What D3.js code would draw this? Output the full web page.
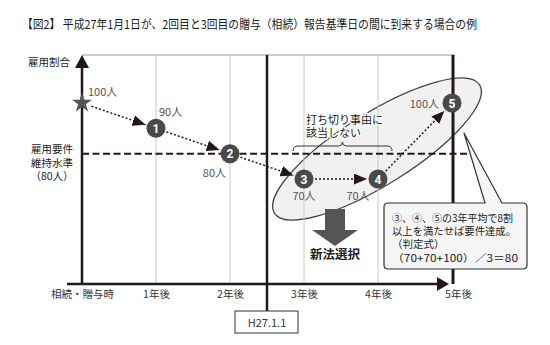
<!DOCTYPE html>
<html>
<head>
<meta charset="utf-8">
<script src="https://cdn.jsdelivr.net/npm/d3@7"></script>
<style>
  html, body { margin: 0; padding: 0; background: #fff; }
  svg { display: block; font-family: "Noto Sans CJK JP", "Noto Sans", sans-serif; }
</style>
</head>
<body>
<svg id="chart" width="550" height="345"></svg>
<script>
// --- data ---
const years = [0, 1, 2, 3, 4, 5];
const tickLabels = ["相続・贈与時", "1年後", "2年後", "3年後", "4年後", "5年後"];
const employees = [100, 90, 80, 70, 70, 100];
const markerNames = ["★", "1", "2", "3", "4", "5"];
const valueLabels = ["100人", "90人", "80人", "70人", "70人", "100人"];
const thresholdValue = 80;
const cutoverYear = 2.5;
const cutoverLabel = "H27.1.1";
const averagedIdx = [3, 4, 5];

// --- layout ---
const labelOffsets = [
  { dx: 6, dy: -11, anchor: "start" },
  { dx: 3, dy: -16, anchor: "start" },
  { dx: -4, dy: 19, anchor: "end" },
  { dx: 0, dy: 17, anchor: "middle" },
  { dx: -20, dy: 17, anchor: "middle" },
  { dx: -13, dy: 1, anchor: "end" }
];

const svg = d3.select("#chart");
const x = d3.scaleLinear().domain([0, 5]).range([82, 452]);
const y = d3.scaleLinear().domain([70, 100]).range([179, 103]);
const topY = 55, axisY = 284;
const dark = "#231815";

// title
svg.append("text")
  .attr("x", 22).attr("y", 29)
  .attr("font-size", 12).attr("fill", "#1a1a1a")
  .attr("textLength", 455).attr("lengthAdjust", "spacingAndGlyphs")
  .text("【図2】 平成27年1月1日が、2回目と3回目の贈与（相続）報告基準日の間に到来する場合の例");

// shaded group of the averaged years
const ecx = 377, ecy = 149;
svg.append("ellipse")
  .attr("cx", ecx).attr("cy", ecy).attr("rx", 121).attr("ry", 36)
  .attr("transform", `rotate(-32,${ecx},${ecy})`)
  .attr("fill", "#f1f1f1").attr("stroke", "#444").attr("stroke-width", 1.2);

// top frame line
svg.append("line")
  .attr("x1", x(0)).attr("x2", x(5) + 3).attr("y1", topY).attr("y2", topY)
  .attr("stroke", "#999").attr("stroke-width", 1);

// yearly gridlines
svg.selectAll("line.grid").data(years.slice(1, 5)).join("line")
  .attr("class", "grid")
  .attr("x1", d => x(d)).attr("x2", d => x(d))
  .attr("y1", topY).attr("y2", axisY)
  .attr("stroke", "#c8c8c8").attr("stroke-width", 1);

// threshold line
svg.append("line")
  .attr("x1", x(0)).attr("x2", 467)
  .attr("y1", y(thresholdValue)).attr("y2", y(thresholdValue))
  .attr("stroke", dark).attr("stroke-width", 2).attr("stroke-dasharray", "7,3.5");

// cutover date line and box
svg.append("line")
  .attr("x1", x(cutoverYear)).attr("x2", x(cutoverYear))
  .attr("y1", topY).attr("y2", 311)
  .attr("stroke", dark).attr("stroke-width", 2.5);
svg.append("rect")
  .attr("x", x(cutoverYear) - 32).attr("y", 311).attr("width", 63).attr("height", 22)
  .attr("fill", "#fff").attr("stroke", "#333").attr("stroke-width", 1);
svg.append("text")
  .attr("x", x(cutoverYear)).attr("y", 326.5).attr("text-anchor", "middle")
  .attr("font-size", 11).attr("fill", "#333").text(cutoverLabel);

// 5-year line
svg.append("line")
  .attr("x1", x(5) + 1).attr("x2", x(5) + 1)
  .attr("y1", topY).attr("y2", axisY)
  .attr("stroke", dark).attr("stroke-width", 3);

// y axis with arrow
svg.append("line")
  .attr("x1", x(0)).attr("x2", x(0)).attr("y1", topY + 10).attr("y2", axisY)
  .attr("stroke", dark).attr("stroke-width", 2.5);
svg.append("path")
  .attr("d", `M${x(0)},${topY} L${x(0) + 7},${topY + 13} L${x(0) - 7},${topY + 13} Z`)
  .attr("fill", dark);
svg.append("text")
  .attr("x", 70).attr("y", 66).attr("text-anchor", "end")
  .attr("font-size", 10.5).attr("fill", "#222").text("雇用割合");

// x axis with arrow
svg.append("line")
  .attr("x1", 67).attr("x2", 440).attr("y1", axisY).attr("y2", axisY)
  .attr("stroke", dark).attr("stroke-width", 2.5);
svg.append("path")
  .attr("d", `M449,${axisY} L437,${axisY - 7} L437,${axisY + 7} Z`)
  .attr("fill", dark);

// x tick labels via axis
const xAxis = d3.axisBottom(x).tickValues(years).tickSize(0).tickPadding(0)
  .tickFormat((d, i) => tickLabels[i]);
const gx = svg.append("g").attr("transform", `translate(0,${axisY + 5})`).call(xAxis);
gx.select(".domain").remove();
gx.selectAll("text")
  .attr("font-size", 10.5).attr("fill", "#333")
  .attr("font-family", "Noto Sans CJK JP, sans-serif")
  .attr("dy", "0.9em");
gx.selectAll(".tick").filter(d => d === 5).select("text").attr("dx", 6);

// threshold label
["雇用要件", "維持水準", "（80人）"].forEach((t, i) => {
  svg.append("text").attr("text-anchor", "middle")
    .attr("font-size", 10.5).attr("fill", "#222")
    .attr("x", 52).attr("y", 153 + i * 13.5).text(t);
});

// brace over years 3-4
const bx1 = 293, bx2 = 392, by = 146, bm = (bx1 + bx2) / 2;
svg.append("path")
  .attr("d", `M${bx1},${by + 5} Q${bx1},${by} ${bx1 + 5},${by} L${bm - 4},${by} Q${bm},${by} ${bm},${by - 4} Q${bm},${by} ${bm + 4},${by} L${bx2 - 5},${by} Q${bx2},${by} ${bx2},${by + 5}`)
  .attr("fill", "none").attr("stroke", "#333").attr("stroke-width", 1);
["打ち切り事由に", "該当しない"].forEach((t, i) => {
  svg.append("text").attr("font-size", 11).attr("fill", "#222")
    .attr("stroke", "#fff").attr("stroke-width", 3).attr("paint-order", "stroke")
    .attr("stroke-linejoin", "round")
    .attr("x", 306).attr("y", 124 + i * 13).text(t);
});

// dotted arrows between points
svg.append("defs").append("marker")
  .attr("id", "head").attr("viewBox", "0 0 12 10")
  .attr("refX", 12).attr("refY", 5)
  .attr("markerWidth", 13).attr("markerHeight", 11)
  .attr("markerUnits", "userSpaceOnUse").attr("orient", "auto")
  .append("path").attr("d", "M0,0 L12,5 L0,10 Z").attr("fill", dark);

const pts = years.map((yr, i) => ({ x: x(yr), y: y(employees[i]) }));
for (let i = 0; i < pts.length - 1; i++) {
  const a = pts[i], b = pts[i + 1];
  const dx = b.x - a.x, dy = b.y - a.y, L = Math.hypot(dx, dy);
  const s = (i === 0 ? 10 : 11) / L, e = 11 / L;
  svg.append("line")
    .attr("x1", a.x + dx * s).attr("y1", a.y + dy * s)
    .attr("x2", b.x - dx * e).attr("y2", b.y - dy * e)
    .attr("stroke", dark).attr("stroke-width", 1.5)
    .attr("stroke-dasharray", "2,2")
    .attr("marker-end", "url(#head)");
}

// points
const gp = svg.selectAll("g.pt").data(pts).join("g")
  .attr("class", "pt")
  .attr("transform", d => `translate(${d.x},${d.y})`);
gp.filter((d, i) => i === 0).append("path")
  .attr("d", d3.symbol(d3.symbolStar, 125)())
  .attr("fill", "#555");
gp.filter((d, i) => i > 0).append("circle")
  .attr("r", 9.5).attr("fill", "#4a4a4a");
gp.filter((d, i) => i > 0).append("text")
  .attr("text-anchor", "middle").attr("y", 4.5)
  .attr("font-size", 12).attr("font-weight", "bold")
  .attr("font-family", "Roboto, sans-serif")
  .attr("fill", "#fff").text((d, i) => markerNames[i + 1]);

// value labels
svg.selectAll("text.val").data(pts).join("text")
  .attr("class", "val")
  .attr("x", (d, i) => d.x + labelOffsets[i].dx)
  .attr("y", (d, i) => d.y + labelOffsets[i].dy + 4)
  .attr("text-anchor", (d, i) => labelOffsets[i].anchor)
  .attr("font-size", 11).attr("fill", "#555")
  .text((d, i) => valueLabels[i]);

// big down arrow
svg.append("path")
  .attr("d", "M325,209 L345,209 L345,230 L358,230 L335,246 L312,230 L325,230 Z")
  .attr("fill", "#555");
svg.append("text")
  .attr("x", 335).attr("y", 259).attr("text-anchor", "middle")
  .attr("font-size", 12.5).attr("font-weight", "bold").attr("fill", "#222")
  .text("新法選択");

// callout box
const cx1 = 384, cx2 = 527, cy1 = 203, cy2 = 269, r = 4;
svg.append("path")
  .attr("d", `M${cx1 + r},${cy1} L485,${cy1} L464,133 L502,${cy1} L${cx2 - r},${cy1} Q${cx2},${cy1} ${cx2},${cy1 + r} L${cx2},${cy2 - r} Q${cx2},${cy2} ${cx2 - r},${cy2} L${cx1 + r},${cy2} Q${cx1},${cy2} ${cx1},${cy2 - r} L${cx1},${cy1 + r} Q${cx1},${cy1} ${cx1 + r},${cy1} Z`)
  .attr("fill", "#f6f6f6").attr("stroke", "#333").attr("stroke-width", 1.2)
  .attr("stroke-linejoin", "round");
const avg = d3.mean(averagedIdx, i => employees[i]);
const calloutLines = [
  { t: "③、④、⑤の3年平均で8割", w: 121 },
  { t: "以上を満たせば要件達成。", w: 124 },
  { t: "（判定式）", w: null },
  { t: `（${averagedIdx.map(i => employees[i]).join("+")}）／3＝${avg}`, w: 126 }
];
calloutLines.forEach((l, i) => {
  const t = svg.append("text").attr("font-size", 10.5).attr("fill", "#222")
    .attr("x", 392).attr("y", 222 + i * 13.2).text(l.t);
  if (l.w) t.attr("textLength", l.w).attr("lengthAdjust", "spacingAndGlyphs");
});
</script>
</body>
</html>
